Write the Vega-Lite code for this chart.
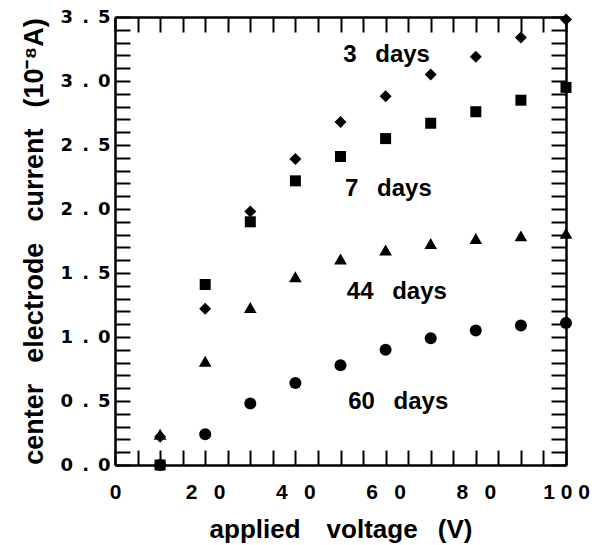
{
  "$schema": "https://vega.github.io/schema/vega-lite/v6.json",
  "width": 451,
  "height": 448,
  "autosize": {"type": "none"},
  "padding": {"left": 115, "top": 17, "right": 39, "bottom": 80},
  "background": "white",
  "datasets": {
    "points": [
      {"V": 10, "I": 0.22, "series": "3 days"},
      {"V": 20, "I": 1.22, "series": "3 days"},
      {"V": 30, "I": 1.98, "series": "3 days"},
      {"V": 40, "I": 2.39, "series": "3 days"},
      {"V": 50, "I": 2.68, "series": "3 days"},
      {"V": 60, "I": 2.88, "series": "3 days"},
      {"V": 70, "I": 3.05, "series": "3 days"},
      {"V": 80, "I": 3.19, "series": "3 days"},
      {"V": 90, "I": 3.34, "series": "3 days"},
      {"V": 100, "I": 3.48, "series": "3 days"},
      {"V": 10, "I": 0.0, "series": "60 days"},
      {"V": 20, "I": 0.24, "series": "60 days"},
      {"V": 30, "I": 0.48, "series": "60 days"},
      {"V": 40, "I": 0.64, "series": "60 days"},
      {"V": 50, "I": 0.78, "series": "60 days"},
      {"V": 60, "I": 0.9, "series": "60 days"},
      {"V": 70, "I": 0.99, "series": "60 days"},
      {"V": 80, "I": 1.05, "series": "60 days"},
      {"V": 90, "I": 1.09, "series": "60 days"},
      {"V": 100, "I": 1.11, "series": "60 days"},
      {"V": 10, "I": 0.0, "series": "7 days"},
      {"V": 20, "I": 1.41, "series": "7 days"},
      {"V": 30, "I": 1.9, "series": "7 days"},
      {"V": 40, "I": 2.22, "series": "7 days"},
      {"V": 50, "I": 2.41, "series": "7 days"},
      {"V": 60, "I": 2.55, "series": "7 days"},
      {"V": 70, "I": 2.67, "series": "7 days"},
      {"V": 80, "I": 2.76, "series": "7 days"},
      {"V": 90, "I": 2.85, "series": "7 days"},
      {"V": 100, "I": 2.95, "series": "7 days"},
      {"V": 10, "I": 0.24, "series": "44 days"},
      {"V": 20, "I": 0.81, "series": "44 days"},
      {"V": 30, "I": 1.23, "series": "44 days"},
      {"V": 40, "I": 1.47, "series": "44 days"},
      {"V": 50, "I": 1.61, "series": "44 days"},
      {"V": 60, "I": 1.68, "series": "44 days"},
      {"V": 70, "I": 1.73, "series": "44 days"},
      {"V": 80, "I": 1.77, "series": "44 days"},
      {"V": 90, "I": 1.79, "series": "44 days"},
      {"V": 100, "I": 1.81, "series": "44 days"}
    ],
    "tags": [
      {"label": "3\u2002 days", "V": 50.6, "I": 3.2},
      {"label": "7\u2002 days", "V": 51.0, "I": 2.16},
      {"label": "44\u2002 days", "V": 51.4, "I": 1.355},
      {"label": "60\u2002 days", "V": 51.7, "I": 0.49}
    ]
  },
  "config": {"view": {"stroke": null}},
  "resolve": {"axis": {"x": "independent", "y": "independent"}},
  "layer": [
    {
      "data": {"name": "points"},
      "mark": {"type": "point", "opacity": 0},
      "encoding": {
        "x": {
          "field": "V", "type": "quantitative",
          "scale": {"domain": [0, 100], "nice": false, "zero": false},
          "axis": {
            "orient": "bottom",
            "grid": true,
            "gridOpacity": 0,
            "domainColor": "black",
            "domainWidth": 2.5,
            "tickColor": "black",
            "tickWidth": 2,
            "values": [0, 5, 10, 15, 20, 25, 30, 35, 40, 45, 50, 55, 60, 65, 70, 75, 80, 85, 90, 95, 100],
            "tickSize": -15,
            "encode": {"ticks": {"y2": {"value": {"expr": "datum.value % 20 === 0 ? -15 : -8"}}}},
            "labelFont": "Liberation Sans",
            "labelFontWeight": "bold",
            "labelColor": "black",
            "labelFontSize": 21,
            "labelPadding": 31,
            "labelFlush": false,
            "labelOverlap": false,
            "labelExpr": "datum.value === 0 ? '0' : datum.value === 100 ? '1 0 0' : datum.value % 20 === 0 ? (datum.value / 10) + '\u2002 0' : ''",
            "title": "applied\u2003voltage\u2002 (V)",
            "titleFont": "Liberation Sans",
            "titleFontWeight": "bold",
            "titleColor": "black",
            "titleFontSize": 26,
            "titlePadding": 14
          }
        },
        "y": {
          "field": "I", "type": "quantitative",
          "scale": {"domain": [0, 3.5], "nice": false, "zero": false},
          "axis": {
            "orient": "left",
            "grid": true,
            "gridOpacity": 0,
            "domainColor": "black",
            "domainWidth": 2.5,
            "tickColor": "black",
            "tickWidth": 2,
            "values": [0, 0.1, 0.2, 0.3, 0.4, 0.5, 0.6, 0.7, 0.8, 0.9, 1, 1.1, 1.2, 1.3, 1.4, 1.5, 1.6, 1.7, 1.8, 1.9, 2, 2.1, 2.2, 2.3, 2.4, 2.5, 2.6, 2.7, 2.8, 2.9, 3, 3.1, 3.2, 3.3, 3.4, 3.5],
            "tickSize": -15,
            "encode": {"ticks": {"x2": {"value": {"expr": "abs(datum.value * 2 - round(datum.value * 2)) < 0.001 ? 15 : 8"}}}},
            "labelFont": "DejaVu Sans",
            "labelFontWeight": "bold",
            "labelColor": "black",
            "labelFontSize": 18,
            "labelPadding": 20,
            "labelFlush": false,
            "labelOverlap": false,
            "labelExpr": "abs(datum.value * 2 - round(datum.value * 2)) < 0.001 ? floor(datum.value + 0.001) + '\u2002.\u2002' + (round(datum.value * 10) % 10) : ''",
            "title": "center\u2002 electrode\u2002 current\u2002 (10\u207b\u2078A)",
            "titleFont": "Liberation Sans",
            "titleFontWeight": "bold",
            "titleColor": "black",
            "titleFontSize": 27,
            "titlePadding": 12
          }
        }
      }
    },
    {
      "data": {"name": "points"},
      "mark": {"type": "point", "opacity": 0},
      "encoding": {
        "x": {
          "field": "V", "type": "quantitative",
          "scale": {"domain": [0, 100], "nice": false, "zero": false},
          "axis": {
            "orient": "top",
            "grid": true,
            "gridOpacity": 0,
            "domainColor": "black",
            "domainWidth": 2.5,
            "tickColor": "black",
            "tickWidth": 2,
            "values": [0, 5, 10, 15, 20, 25, 30, 35, 40, 45, 50, 55, 60, 65, 70, 75, 80, 85, 90, 95, 100],
            "tickSize": -15,
            "encode": {"ticks": {"y2": {"value": {"expr": "datum.value % 20 === 0 ? 15 : 8"}}}},
            "labelOpacity": 0,
            "title": null
          }
        },
        "y": {
          "field": "I", "type": "quantitative",
          "scale": {"domain": [0, 3.5], "nice": false, "zero": false},
          "axis": {
            "orient": "right",
            "grid": true,
            "gridOpacity": 0,
            "domainColor": "black",
            "domainWidth": 2.5,
            "tickColor": "black",
            "tickWidth": 2,
            "values": [0, 0.1, 0.2, 0.3, 0.4, 0.5, 0.6, 0.7, 0.8, 0.9, 1, 1.1, 1.2, 1.3, 1.4, 1.5, 1.6, 1.7, 1.8, 1.9, 2, 2.1, 2.2, 2.3, 2.4, 2.5, 2.6, 2.7, 2.8, 2.9, 3, 3.1, 3.2, 3.3, 3.4, 3.5],
            "tickSize": -15,
            "encode": {"ticks": {"x2": {"value": {"expr": "abs(datum.value * 2 - round(datum.value * 2)) < 0.001 ? -15 : -8"}}}},
            "labelOpacity": 0,
            "title": null
          }
        }
      }
    },
    {
      "data": {"name": "points"},
      "transform": [{"filter": "datum.series === '3 days'"}],
      "mark": {"type": "point", "shape": "diamond", "size": 144, "filled": true, "color": "black", "opacity": 1},
      "encoding": {
        "x": {"field": "V", "type": "quantitative", "scale": {"domain": [0, 100], "nice": false, "zero": false}, "axis": null},
        "y": {"field": "I", "type": "quantitative", "scale": {"domain": [0, 3.5], "nice": false, "zero": false}, "axis": null}
      }
    },
    {
      "data": {"name": "points"},
      "transform": [{"filter": "datum.series === '60 days'"}],
      "mark": {"type": "point", "shape": "circle", "size": 144, "filled": true, "color": "black", "opacity": 1},
      "encoding": {
        "x": {"field": "V", "type": "quantitative", "scale": {"domain": [0, 100], "nice": false, "zero": false}, "axis": null},
        "y": {"field": "I", "type": "quantitative", "scale": {"domain": [0, 3.5], "nice": false, "zero": false}, "axis": null}
      }
    },
    {
      "data": {"name": "points"},
      "transform": [{"filter": "datum.series === '7 days'"}],
      "mark": {"type": "point", "shape": "square", "size": 121, "filled": true, "color": "black", "opacity": 1},
      "encoding": {
        "x": {"field": "V", "type": "quantitative", "scale": {"domain": [0, 100], "nice": false, "zero": false}, "axis": null},
        "y": {"field": "I", "type": "quantitative", "scale": {"domain": [0, 3.5], "nice": false, "zero": false}, "axis": null}
      }
    },
    {
      "data": {"name": "points"},
      "transform": [{"filter": "datum.series === '44 days'"}],
      "mark": {"type": "point", "shape": "triangle-up", "size": 160, "filled": true, "color": "black", "opacity": 1},
      "encoding": {
        "x": {"field": "V", "type": "quantitative", "scale": {"domain": [0, 100], "nice": false, "zero": false}, "axis": null},
        "y": {"field": "I", "type": "quantitative", "scale": {"domain": [0, 3.5], "nice": false, "zero": false}, "axis": null}
      }
    },
    {
      "data": {"name": "tags"},
      "mark": {"type": "text", "font": "Liberation Sans", "fontWeight": "bold", "fontSize": 24, "align": "left", "baseline": "middle", "color": "black"},
      "encoding": {
        "x": {"field": "V", "type": "quantitative", "scale": {"domain": [0, 100], "nice": false, "zero": false}, "axis": null},
        "y": {"field": "I", "type": "quantitative", "scale": {"domain": [0, 3.5], "nice": false, "zero": false}, "axis": null},
        "text": {"field": "label", "type": "nominal"}
      }
    }
  ]
}
